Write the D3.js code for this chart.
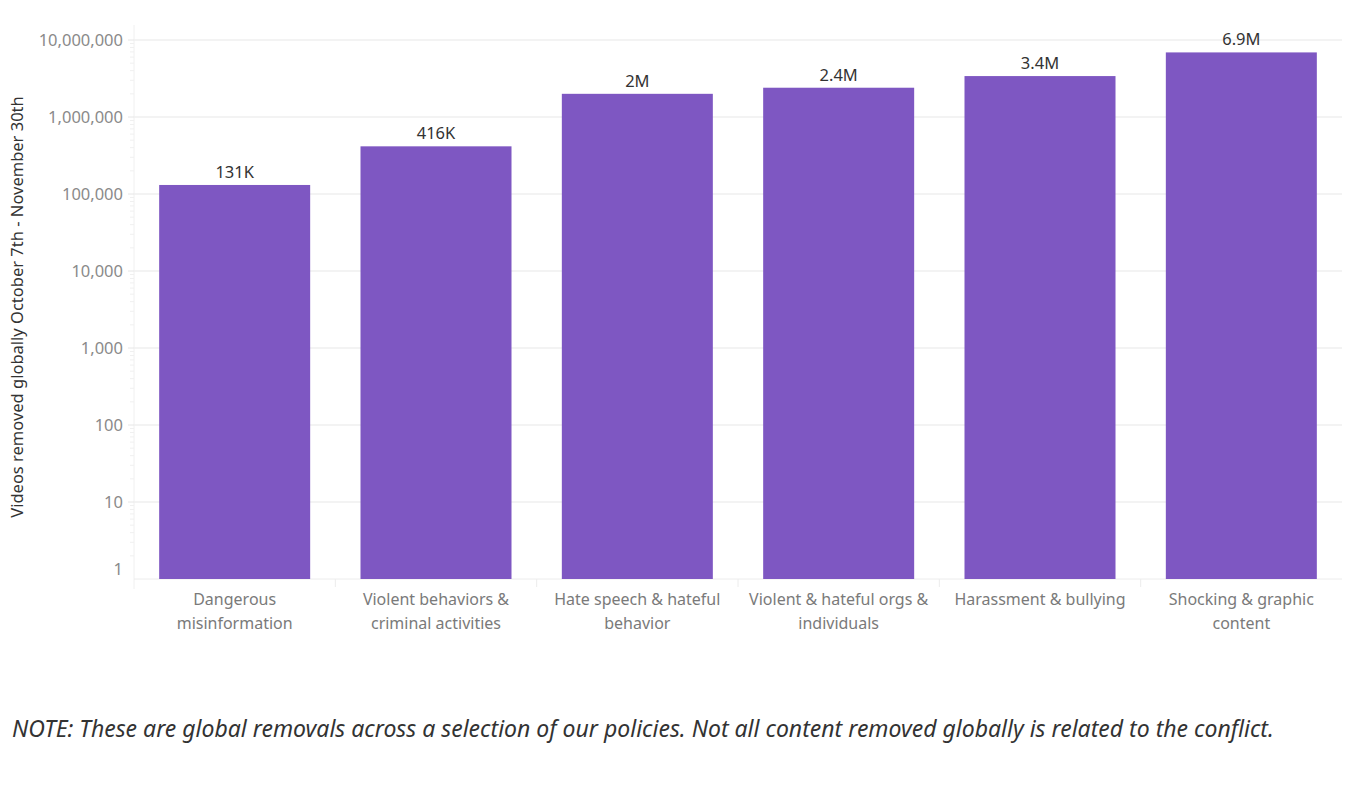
<!DOCTYPE html>
<html>
<head>
<meta charset="utf-8">
<script src="https://cdn.jsdelivr.net/npm/d3@7"></script>
<style>
  body { margin: 0; background: #fff; }
  svg { font-family: "Noto Sans", Lato, sans-serif; }
</style>
</head>
<body>
<div id="chart"></div>
<script>
const categories = [
  "Dangerous misinformation",
  "Violent behaviors & criminal activities",
  "Hate speech & hateful behavior",
  "Violent & hateful orgs & individuals",
  "Harassment & bullying",
  "Shocking & graphic content"
];
// how each category label breaks into lines under the axis
const categoryLines = [
  ["Dangerous", "misinformation"],
  ["Violent behaviors &", "criminal activities"],
  ["Hate speech & hateful", "behavior"],
  ["Violent & hateful orgs &", "individuals"],
  ["Harassment & bullying"],
  ["Shocking & graphic", "content"]
];
const removals = [131000, 416000, 2000000, 2400000, 3400000, 6900000];
const valueLabels = ["131K", "416K", "2M", "2.4M", "3.4M", "6.9M"];
const yTicks = [1, 10, 100, 1000, 10000, 100000, 1000000, 10000000];

const W = 1349, H = 809;
const plot = { left: 134, right: 1342, top: 40, bottom: 579 };

const svg = d3.select("#chart").append("svg")
    .attr("width", W)
    .attr("height", H);

const x = d3.scaleBand()
    .domain(categories)
    .range([plot.left, plot.right])
    .paddingInner(0.25)
    .paddingOuter(0.125);

const y = d3.scaleLog()
    .domain([1, 1e7])
    .range([plot.bottom, plot.top]);

// gridlines
svg.append("g")
    .selectAll("line")
    .data(yTicks.slice(1))
    .join("line")
    .attr("x1", plot.left)
    .attr("x2", plot.right)
    .attr("y1", d => y(d))
    .attr("y2", d => y(d))
    .attr("stroke", "#efefef")
    .attr("stroke-width", 1.5);

// minor ticks
const minor = [];
for (let e = 0; e < 7; e++) for (let m = 2; m <= 9; m++) minor.push(m * Math.pow(10, e));
svg.append("g")
    .selectAll("line")
    .data(minor)
    .join("line")
    .attr("x1", plot.left - 4)
    .attr("x2", plot.left)
    .attr("y1", d => y(d))
    .attr("y2", d => y(d))
    .attr("stroke", "#f0f0f0");

// axis lines
svg.append("line")
    .attr("x1", plot.left).attr("x2", plot.left)
    .attr("y1", 25).attr("y2", plot.bottom + 10)
    .attr("stroke", "#f0f0f0");
svg.append("line")
    .attr("x1", plot.left).attr("x2", plot.right)
    .attr("y1", plot.bottom).attr("y2", plot.bottom)
    .attr("stroke", "#ececec");

// y tick labels
svg.append("g")
    .selectAll("text")
    .data(yTicks)
    .join("text")
    .attr("x", 123)
    .attr("y", d => d === 1 ? y(d) - 10 : y(d))
    .attr("dy", "0.35em")
    .attr("text-anchor", "end")
    .attr("font-size", 16.5)
    .attr("fill", "#8a8a8a")
    .text(d => d3.format(",")(d));

svg.append("g")
    .selectAll("line")
    .data(yTicks.slice(1))
    .join("line")
    .attr("x1", plot.left - 6)
    .attr("x2", plot.left)
    .attr("y1", d => y(d))
    .attr("y2", d => y(d))
    .attr("stroke", "#e6e6e6");

// category separators
const step = x.step();
svg.append("g")
    .selectAll("line")
    .data(categories.slice(1))
    .join("line")
    .attr("x1", d => x(d) - (step - x.bandwidth()) / 2)
    .attr("x2", d => x(d) - (step - x.bandwidth()) / 2)
    .attr("y1", plot.bottom)
    .attr("y2", plot.bottom + 8)
    .attr("stroke", "#ececec");

// bars
svg.append("g")
    .selectAll("rect")
    .data(categories)
    .join("rect")
    .attr("x", d => x(d))
    .attr("width", x.bandwidth())
    .attr("y", (d, i) => y(removals[i]))
    .attr("height", (d, i) => plot.bottom - y(removals[i]))
    .attr("fill", "#7e57c2");

// value labels
svg.append("g")
    .selectAll("text")
    .data(categories)
    .join("text")
    .attr("x", d => x(d) + x.bandwidth() / 2)
    .attr("y", (d, i) => y(removals[i]) - 7)
    .attr("text-anchor", "middle")
    .attr("font-size", 16.5)
    .attr("fill", "#333")
    .text((d, i) => valueLabels[i]);

// category labels
svg.append("g")
    .selectAll("text")
    .data(categories)
    .join("text")
    .attr("x", d => x(d) + x.bandwidth() / 2)
    .attr("y", 605)
    .attr("text-anchor", "middle")
    .attr("font-size", 16)
    .attr("fill", "#7a7a7a")
    .each(function(d, i) {
      const t = d3.select(this);
      categoryLines[i].forEach((l, j) => {
        t.append("tspan")
          .attr("x", t.attr("x"))
          .attr("dy", j === 0 ? 0 : 24)
          .text(l);
      });
    });

// y axis title
svg.append("text")
    .attr("transform", "translate(23, 307) rotate(-90)")
    .attr("text-anchor", "middle")
    .attr("font-size", 16.5)
    .attr("fill", "#333")
    .text("Videos removed globally October 7th - November 30th");

// note
svg.append("text")
    .attr("x", 12)
    .attr("y", 737)
    .attr("font-size", 23)
    .attr("font-style", "italic")
    .attr("fill", "#333")
    .text("NOTE: These are global removals across a selection of our policies. Not all content removed globally is related to the conflict.");
</script>
</body>
</html>
